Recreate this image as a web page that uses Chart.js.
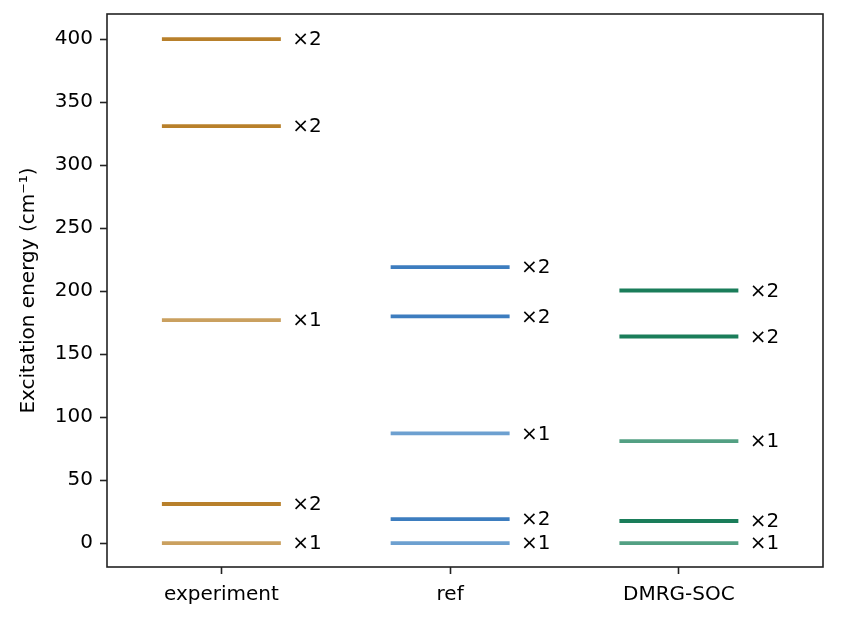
<!DOCTYPE html>
<html>
<head>
<meta charset="utf-8">
<script src="https://cdn.jsdelivr.net/npm/chart.js@4"></script>
<style>
  body { margin: 0; background: #fff; }
  canvas { display: block; }
</style>
</head>
<body>
<canvas id="levelsChart" width="865" height="618"></canvas>
<script>
// data
const categories = ['experiment', 'ref', 'DMRG-SOC'];
const experimentLevels = [0, 31, 177, 331, 400];
const experimentDegeneracy = [1, 2, 1, 2, 2];
const refLevels = [0, 19, 87, 180, 219];
const refDegeneracy = [1, 2, 1, 2, 2];
const dmrgLevels = [0, 17.5, 81, 164, 200.5];
const dmrgDegeneracy = [1, 2, 1, 2, 2];
const yTicks = [0, 50, 100, 150, 200, 250, 300, 350, 400];

const levels = [experimentLevels, refLevels, dmrgLevels];
const degeneracy = [experimentDegeneracy, refDegeneracy, dmrgDegeneracy];

// colours: full for doubly degenerate, faded for single levels
const strongColors = ['#b8802b', '#3d7dbf', '#1a7d5a'];
const fadedColors = ['#caa05f', '#6da0d0', '#53a083'];
const halfWidth = 0.26;
const labelOffset = 0.31;

const datasets = [];
levels.forEach(function (vals, i) {
    vals.forEach(function (v, j) {
        datasets.push({
            data: [{x: i - halfWidth, y: v}, {x: i + halfWidth, y: v}],
            borderColor: degeneracy[i][j] === 2 ? strongColors[i] : fadedColors[i],
            borderWidth: 3.8,
            showLine: true,
            pointRadius: 0,
            borderCapStyle: 'butt'
        });
    });
});

const fontFamily = "'DejaVu Sans', sans-serif";

const degeneracyLabels = {
    id: 'degeneracyLabels',
    afterDatasetsDraw(chart) {
        const ctx = chart.ctx;
        const xs = chart.scales.x, ys = chart.scales.y;
        ctx.save();
        ctx.font = '20px ' + fontFamily;
        ctx.fillStyle = '#000';
        ctx.textAlign = 'left';
        ctx.textBaseline = 'middle';
        levels.forEach(function (vals, i) {
            vals.forEach(function (v, j) {
                ctx.fillText('\u00d7' + degeneracy[i][j], xs.getPixelForValue(i + labelOffset), ys.getPixelForValue(v) + 1);
            });
        });
        ctx.restore();
    }
};

const frame = {
    id: 'frame',
    afterDraw(chart) {
        const a = chart.chartArea;
        const ctx = chart.ctx;
        ctx.save();
        ctx.strokeStyle = '#222';
        ctx.lineWidth = 1.6;
        ctx.strokeRect(a.left, a.top, a.right - a.left, a.bottom - a.top);
        ctx.restore();
    }
};

const ctx = document.getElementById('levelsChart').getContext('2d');
const levelsChart = new Chart(ctx, {
    type: 'scatter',
    data: { datasets: datasets },
    plugins: [degeneracyLabels, frame],
    options: {
        responsive: false,
        animation: false,
        layout: { padding: { top: 14, right: 42, bottom: 0, left: 0 } },
        plugins: {
            legend: { display: false },
            tooltip: { enabled: false }
        },
        scales: {
            x: {
                type: 'linear',
                min: -0.5,
                max: 2.63,
                afterFit: function (scale) {
                    scale.height = 51;
                    scale.paddingLeft = 0;
                    scale.paddingRight = 0;
                },
                afterBuildTicks: function (scale) {
                    scale.ticks = categories.map(function (c, i) { return {value: i}; });
                },
                border: { display: false },
                grid: { drawOnChartArea: false, drawTicks: true, tickLength: 7, color: '#222', tickWidth: 1.6 },
                ticks: {
                    color: '#000',
                    padding: 9,
                    maxRotation: 0,
                    font: { family: fontFamily, size: 20 },
                    callback: function (value) { return categories[value]; }
                }
            },
            y: {
                type: 'linear',
                min: -19,
                max: 420,
                afterFit: function (scale) {
                    scale.width = 107;
                    scale.paddingTop = 0;
                    scale.paddingBottom = 0;
                },
                afterBuildTicks: function (scale) {
                    scale.ticks = yTicks.map(function (v) { return {value: v}; });
                },
                border: { display: false },
                grid: { drawOnChartArea: false, drawTicks: true, tickLength: 7, color: '#222', tickWidth: 1.6 },
                ticks: {
                    color: '#000',
                    padding: 7,
                    font: { family: fontFamily, size: 20 }
                },
                title: {
                    display: true,
                    text: 'Excitation energy (cm\u207b\u00b9)',
                    color: '#000',
                    font: { family: fontFamily, size: 20 },
                    padding: { top: 17, bottom: 0 }
                }
            }
        }
    }
});
</script>
</body>
</html>
